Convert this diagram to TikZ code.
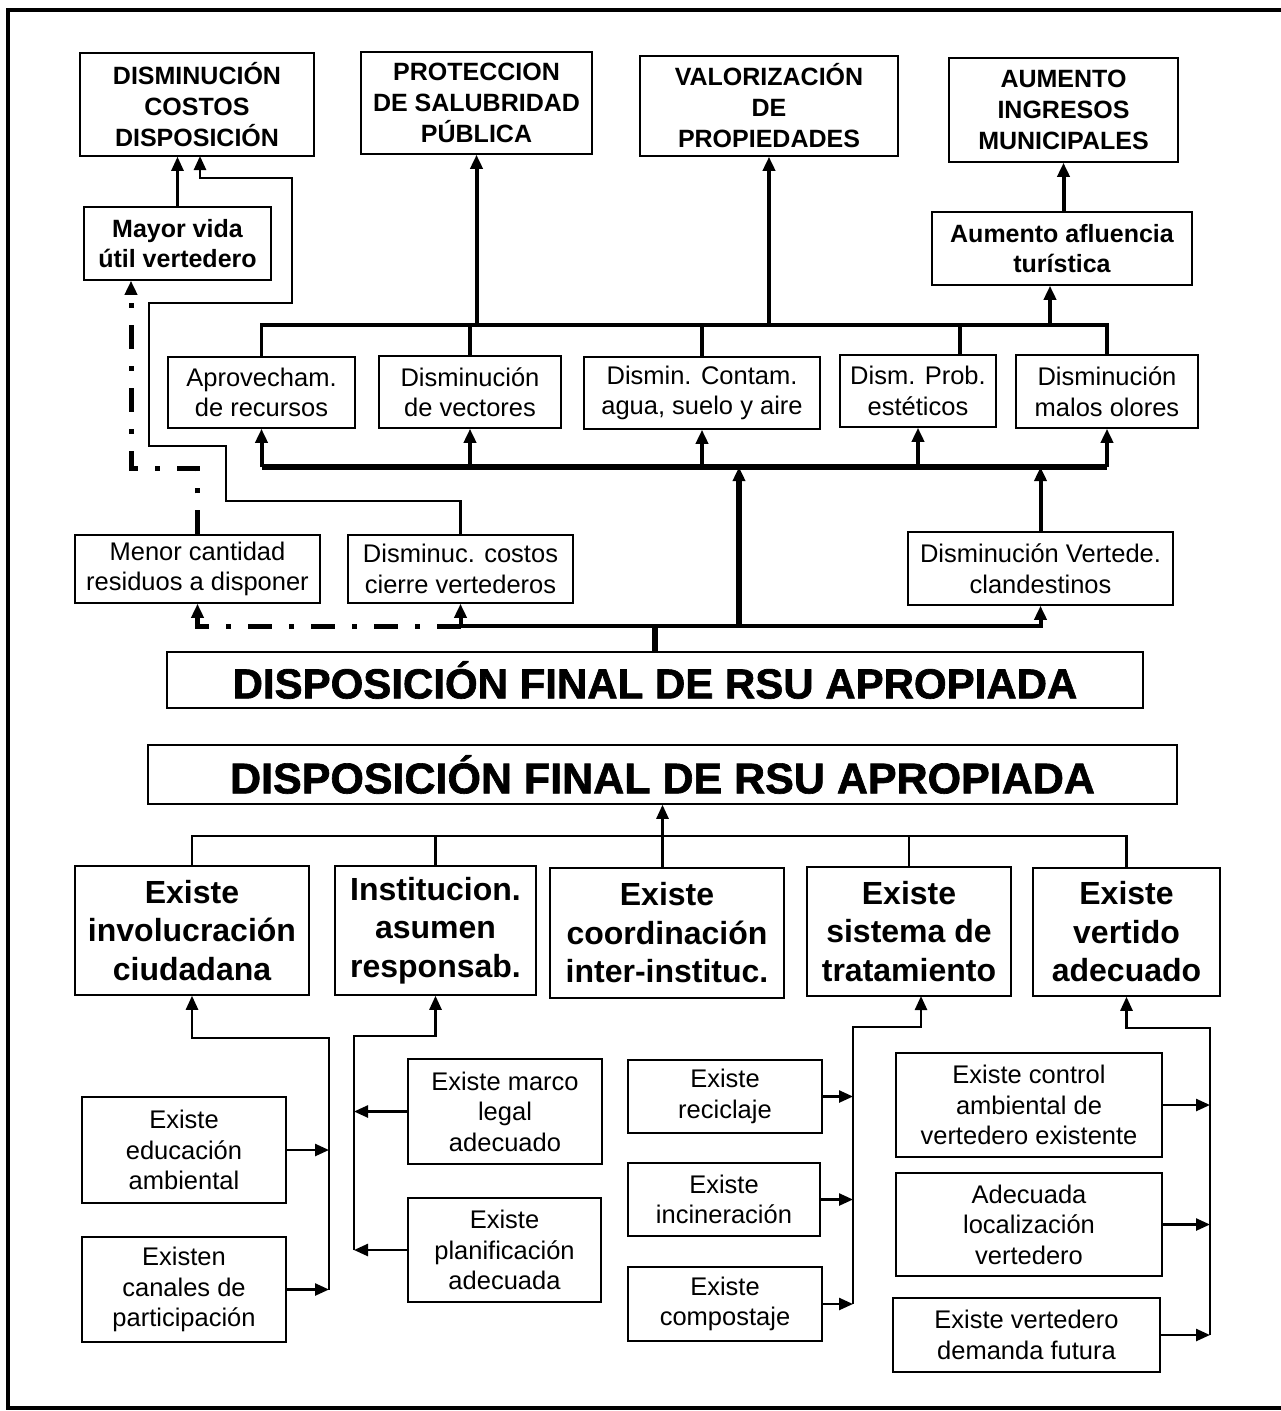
\documentclass[tikz,border=0pt]{standalone}
\usepackage{fontspec}
\setmainfont{Liberation Sans}
\newfontfamily\heavyfont{Liberation Sans}[BoldFeatures={FakeBold=1.5}]
\usetikzlibrary{arrows.meta}

\begin{document}
\begin{tikzpicture}[x=1pt,y=-1pt,
  box/.style={draw, line width=1.5pt, inner sep=0pt, align=center, anchor=center},
  sz/.style 2 args={minimum width=#1pt, minimum height=#2pt},
  capsf/.style={font=\bfseries\fontsize{25}{31}\selectfont},
  boldf/.style={font=\bfseries\fontsize{25}{30}\selectfont},
  plainf/.style={font=\fontsize{25.5}{30.5}\selectfont},
  bigf/.style={font=\bfseries\fontsize{32}{38.5}\selectfont},
  headf/.style={font=\heavyfont\bfseries\fontsize{42}{48}\selectfont},
  headg/.style={font=\heavyfont\bfseries\fontsize{43}{48}\selectfont},
  conn/.style={line width=2.5pt},
  rise/.style={line width=4pt},
  bus/.style={line width=3.5pt},
  heavybus/.style={line width=6.5pt},
  dashdot/.style={line width=5pt, dash pattern=on 24pt off 17pt on 5pt off 17pt},
  tip/.style={-{Triangle[length=14pt,width=12pt]}},
  tips/.style={{Triangle[length=14pt,width=12pt]}-{Triangle[length=14pt,width=12pt]}},
]
\useasboundingbox (0,0) rectangle (1281,1411);

% outer frame
\draw[line width=3.5pt] (1283,10) -- (8,10) -- (8,1408) -- (1283,1408);

% ---------- effects (upper tree) ----------
\node[box,capsf,sz={234}{103}] (dcd) at (197,104.5) {DISMINUCIÓN\\COSTOS\\DISPOSICIÓN};
\node[box,capsf,sz={231}{102}] (pro) at (476.5,103) {PROTECCION\\DE SALUBRIDAD\\PÚBLICA};
\node[box,capsf,sz={258}{100}] (val) at (769,106) {VALORIZACIÓN\\DE\\PROPIEDADES};
\node[box,capsf,sz={229}{104}] (ain) at (1063.5,110) {AUMENTO\\INGRESOS\\MUNICIPALES};

\node[box,boldf,sz={187}{73}] (may) at (177.5,243.5) {Mayor vida\\útil vertedero};
\node[box,boldf,sz={260}{73}] (aaf) at (1062,248.5) {Aumento afluencia\\turística};

\node[box,plainf,sz={187}{71}] (apr) at (261.5,392.5) {Aprovecham.\\de recursos};
\node[box,plainf,sz={182}{72}] (vec) at (470,392) {Disminución\\de vectores};
\node[box,plainf,sz={236}{72}] (con) at (702,393) {Dismin. Contam.\\agua, suelo y aire};
\node[box,plainf,sz={156}{72}] (est) at (918,391) {Dism. Prob.\\estéticos};
\node[box,plainf,sz={182}{73}] (olo) at (1107,391.5) {Disminución\\malos olores};

\node[box,plainf,sz={245}{68}] (men) at (197.5,569) {Menor cantidad\\residuos a disponer};
\node[box,plainf,sz={225}{68}] (dcc) at (460.5,569) {Disminuc. costos\\cierre vertederos};
\node[box,plainf,sz={265}{73}] (dvc) at (1040.5,568.5) {Disminución Vertede.\\clandestinos};

\node[box,headf,sz={976}{56}] (dfa) at (655,680) {DISPOSICIÓN FINAL DE RSU APROPIADA};

% bus levels and junctions
\coordinate (b1) at (0,325);
\coordinate (b2) at (0,467);
\coordinate (b3) at (0,626);
\coordinate (b4) at (0,836);
\coordinate (estdrop) at (960,325);
\coordinate (aafin) at (1050,325);
\coordinate (midup) at (739,626);
\coordinate (ddx) at (131,468);

% upper thin bus joining the middle boxes
\draw[bus] (apr.north) -- (apr.north |- b1) -- (olo.north |- b1) -- (olo.north);
\draw[bus] (vec.north) -- (vec.north |- b1);
\draw[bus] (con.north) -- (con.north |- b1);
\draw[bus] (estdrop) -- (estdrop |- est.north);
\draw[rise,tip] (pro.south |- b1) -- (pro.south);
\draw[rise,tip] (val.south |- b1) -- (val.south);
\draw[rise,tip] (aafin) -- (aafin |- aaf.south);
\draw[rise,tip] (aaf.north -| ain.south) -- (ain.south);
\draw[conn,tip] (may.north) -- (may.north |- dcd.south);

% heavy bus feeding the middle boxes
\draw[heavybus] (apr.south |- b2) -- (olo.south |- b2);
\foreach \n in {apr,vec,con,est,olo}
  \draw[rise,tip] (\n.south |- b2) -- (\n.south);
\draw[heavybus,tip] (midup) -- (midup |- b2);
\draw[rise,tip] (dvc.north) -- (dvc.north |- b2);

% bottom bus from the final disposal box
\draw[heavybus] (dfa.north) -- (dfa.north |- b3);
\draw[rise,tips] (dcc.south) -- (dcc.south |- b3) -- (dvc.south |- b3) -- (dvc.south);

% thin routed line to disposal costs
\draw[conn,tip] (dcc.north) |- (226,501) |- (149,446) |- (292,303) |- (200,178) -- (200,156);

% dash-dot links
\draw[dashdot,tip] (men.north) |- (ddx) -- (ddx |- may.south);
\draw[dashdot,tip] (dcc.south |- b3) -| (men.south);

% ---------- causes (lower tree) ----------
\node[box,headg,sz={1029}{59}] (dfb) at (662.5,774.5) {DISPOSICIÓN FINAL DE RSU APROPIADA};

\node[box,bigf,sz={234}{129}] (inv) at (192,930.5) {Existe\\involucración\\ciudadana};
\node[box,bigf,sz={201}{129}] (ins) at (435.5,930.5) {Institucion.\\asumen\\responsab.};
\node[box,bigf,sz={234}{130}] (coo) at (667,933) {Existe\\coordinación\\inter-instituc.};
\node[box,bigf,sz={204}{129}] (sis) at (909,931.5) {Existe\\sistema de\\tratamiento};
\node[box,bigf,sz={187}{128}] (ver) at (1126.5,932) {Existe\\vertido\\adecuado};

\node[box,plainf,sz={204}{106}] (edu) at (184,1150) {Existe\\educación\\ambiental};
\node[box,plainf,sz={204}{105}] (can) at (184,1289.5) {Existen\\canales de\\participación};
\node[box,plainf,sz={194}{105}] (mar) at (505,1111.5) {Existe marco\\legal\\adecuado};
\node[box,plainf,sz={193}{104}] (pla) at (504.5,1250) {Existe\\planificación\\adecuada};
\node[box,plainf,sz={194}{73}] (rec) at (725,1096.5) {Existe\\reciclaje};
\node[box,plainf,sz={192}{73}] (inc) at (724,1199.5) {Existe\\incineración};
\node[box,plainf,sz={194}{74}] (com) at (725,1304) {Existe\\compostaje};
\node[box,plainf,sz={266}{104}] (ctl) at (1029,1105) {Existe control\\ambiental de\\vertedero existente};
\node[box,plainf,sz={266}{103}] (loc) at (1029,1224.5) {Adecuada\\localización\\vertedero};
\node[box,plainf,sz={267}{74}] (dem) at (1026.5,1335) {Existe vertedero\\demanda futura};

% lower bus
\draw[conn] (inv.north) -- (inv.north |- b4) -- (ver.north |- b4) -- (ver.north);
\draw[conn] (ins.north) -- (ins.north |- b4);
\draw[conn] (sis.north) -- (sis.north |- b4);
\draw[conn,tip] (dfb.south |- coo.north) -- (dfb.south);

% branch collectors
\coordinate (invx) at (329,1038);
\coordinate (insx) at (354,1036);
\coordinate (sisx) at (853,1027);
\coordinate (sisin) at (921,996);
\coordinate (verx) at (1210,1028);

\draw[conn,tip] (invx |- can.east) -- (invx) -| (inv.south);
\draw[conn,tip] (edu.east) -- (edu.east -| invx);
\draw[conn,tip] (can.east) -- (can.east -| invx);

\draw[conn,tip] (insx |- pla.west) -- (insx) -| (ins.south);
\draw[conn,tip] (mar.west) -- (mar.west -| insx);
\draw[conn,tip] (pla.west) -- (pla.west -| insx);

\draw[conn,tip] (sisx |- com.east) -- (sisx) -| (sisin);
\draw[conn,tip] (rec.east) -- (rec.east -| sisx);
\draw[conn,tip] (inc.east) -- (inc.east -| sisx);
\draw[conn,tip] (com.east) -- (com.east -| sisx);

\draw[conn,tip] (verx |- dem.east) -- (verx) -| (ver.south);
\draw[conn,tip] (ctl.east) -- (ctl.east -| verx);
\draw[conn,tip] (loc.east) -- (loc.east -| verx);
\draw[conn,tip] (dem.east) -- (dem.east -| verx);
\end{tikzpicture}
\end{document}
